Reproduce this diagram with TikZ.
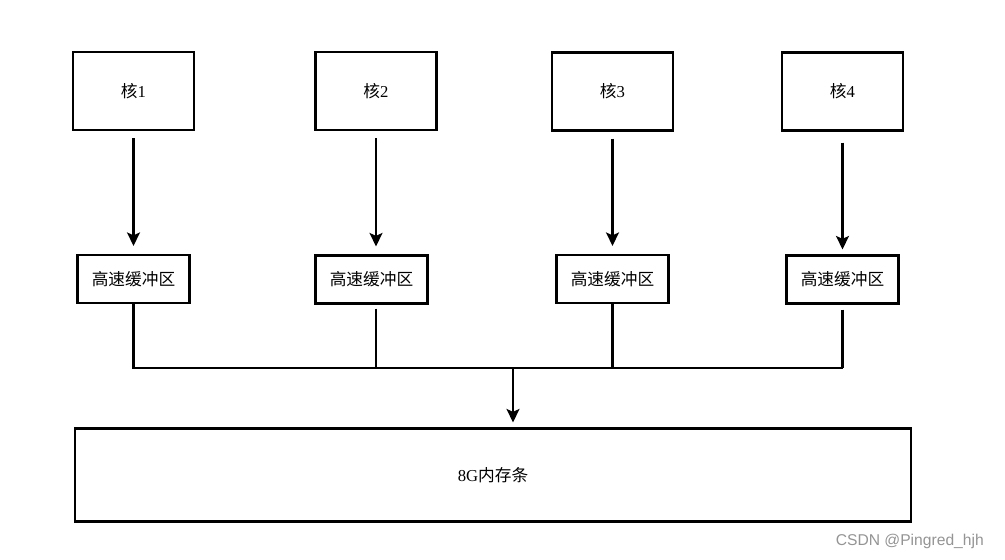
\documentclass[tikz,border=0pt]{standalone}
\usepackage{fontspec}
\setmainfont{Liberation Serif}
\newfontfamily\cjk{Noto Sans CJK SC}
\newfontfamily\wmfont{Liberation Sans}
\usetikzlibrary{arrows.meta}

\begin{document}
\begin{tikzpicture}[x=0.02cm, y=-0.02cm,
                        corebox/.style={draw, line width=1.25pt, minimum width=2.42cm, minimum height=1.56cm, font=\fontsize{9.5}{11}\selectfont},
                        cachebox/.style={draw, line width=1.25pt, minimum width=2.24cm, minimum height=0.96cm, font=\fontsize{9.5}{11}\selectfont},
                        membox/.style={draw, line width=1.25pt, minimum width=16.72cm, minimum height=1.86cm, font=\fontsize{9.5}{11}\selectfont},
                        wire/.style={line width=1.25pt},
                        arr/.style={line width=1.25pt, -{Stealth[length=2.7mm, width=2.6mm, inset=0.6mm]}, shorten <=0.14cm, shorten >=0.16cm}]
      \useasboundingbox (0,0) rectangle (1005,559);

      \node[corebox] (core1) at (133.5,91) {{\cjk 核}1};
      \node[corebox] (core2) at (376,91) {{\cjk 核}2};
      \node[corebox] (core3) at (612.5,91.5) {{\cjk 核}3};
      \node[corebox] (core4) at (842.5,91.5) {{\cjk 核}4};

      \node[cachebox] (cache1) at (133.5,279) {\cjk 高速缓冲区};
      \node[cachebox] (cache2) at (371.5,279.5) {\cjk 高速缓冲区};
      \node[cachebox] (cache3) at (612.5,279) {\cjk 高速缓冲区};
      \node[cachebox] (cache4) at (842.5,279.5) {\cjk 高速缓冲区};

      \node[membox] (mem) at (493,475) {8G{\cjk 内存条}};

      \coordinate (bus) at (513,368);

      \draw[arr] (core1.south) -- (core1.south |- cache1.north);
      \draw[arr] (core2.south) -- (core2.south |- cache2.north);
      \draw[arr] (core3.south) -- (core3.south |- cache3.north);
      \draw[arr, shorten <=0.22cm, shorten >=0.1cm] (core4.south) -- (core4.south |- cache4.north);

      \draw[wire] (cache1.south) -- (cache1.south |- bus) -- (cache4.south |- bus);
      \draw[wire, shorten <=0.1cm] (cache4.south) -- (cache4.south |- bus);
      \draw[wire, shorten <=0.08cm] (core2.south |- cache2.south) -- (core2.south |- bus);
      \draw[wire] (cache3.south) -- (cache3.south |- bus);
      \draw[arr, shorten <=0cm, shorten >=0.1cm] (bus) -- (bus |- mem.north);

      \node[anchor=east, text=black!42, font=\wmfont\fontsize{8.9}{10}\selectfont] (mark) at (990,541) {CSDN @Pingred\_hjh};
    \end{tikzpicture}
\end{document}
